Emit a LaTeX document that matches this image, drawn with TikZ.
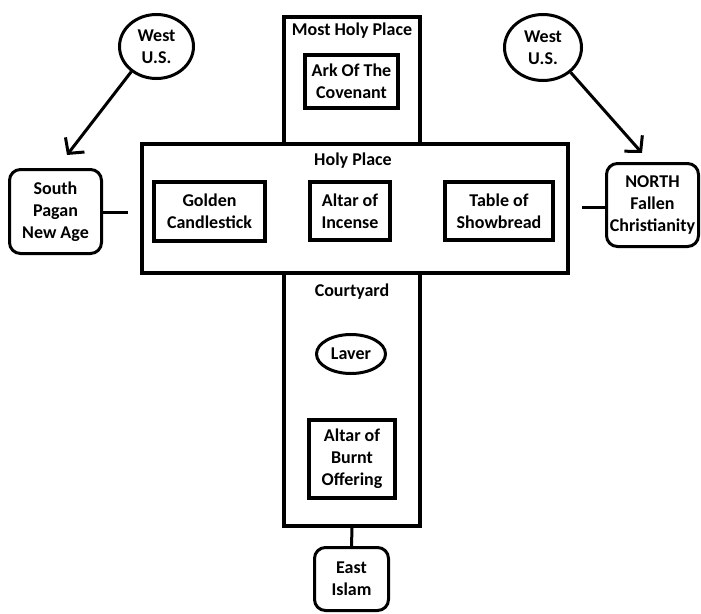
\documentclass[tikz,border=0pt]{standalone}
\usepackage{fontspec}
\setmainfont{Carlito}
\usetikzlibrary{arrows.meta,shapes.geometric,calc}
\begin{document}
\begin{tikzpicture}[x=1pt,y=-1pt,
  font=\bfseries\fontsize{18}{22}\selectfont,
  area/.style={draw, line width=4pt, rectangle, inner sep=0pt, fill=white},
  item/.style={draw, line width=4pt, rectangle, inner sep=0pt, align=center},
  place/.style={draw, line width=3pt, rectangle, rounded corners=11pt, inner sep=0pt, align=center},
  region/.style={draw, line width=3pt, ellipse, inner sep=0pt, align=center},
  lbl/.style={inner sep=0pt, align=center},
  link/.style={line width=3pt},
  arr/.style={line width=3pt, -{Straight Barb[length=11pt,width=24pt,line width=3pt]}}
]
\useasboundingbox (0,0) rectangle (701,613);
% cross
\node[area, minimum width=136pt, minimum height=127pt] (most) at (352,80) {};
\node[area, minimum width=136pt, minimum height=254pt] (court) at (352,399) {};
\node[area, minimum width=426pt, minimum height=129pt] (holy) at (355,208.5) {};
% labels
\node[lbl] (mostl) at (352,31) {Most Holy Place};
\node[lbl] (holyl) at (353,161) {Holy Place};
\node[lbl] (courtl) at (352,292) {Courtyard};
% items
\node[item, minimum width=93pt, minimum height=53pt] (ark) at (351.5,81.5) {Ark Of The\\Covenant};
\node[item, minimum width=111pt, minimum height=59pt] (gold) at (209.5,211.5) {Golden\\Candlestick};
\node[item, minimum width=80pt, minimum height=58pt] (incense) at (350,211) {Altar of\\Incense};
\node[item, minimum width=108pt, minimum height=58pt] (bread) at (499,211) {Table of\\Showbread};
\node[region, minimum width=69pt, minimum height=39pt] (laver) at (351,354) {Laver};
\node[item, minimum width=86pt, minimum height=78pt] (burnt) at (352,459) {Altar of\\Burnt\\Offering};
% directions
\node[region, minimum width=74pt, minimum height=64pt] (westl) at (156.5,46.5) {West\\U.S.};
\node[region, minimum width=77pt, minimum height=66pt] (westr) at (543,47.5) {West\\U.S.};
\node[place, minimum width=92pt, minimum height=84pt] (south) at (55.5,211.5) {South\\Pagan\\New Age};
\node[place, minimum width=92pt, minimum height=83pt] (north) at (652.5,205) {NORTH\\Fallen\\Christianity};
\node[place, minimum width=74pt, minimum height=63pt] (east) at (351.5,579) {East\\Islam};
% connectors
\coordinate (tipl) at (67,155);
\coordinate (tipr) at (642,153);
\coordinate (sgap) at (128,212);
\coordinate (ngap) at (582,207);
\draw[arr] (westl.225) -- (tipl);
\draw[arr] (westr.318) -- (tipr);
\draw[link] (south.east |- sgap) -- (sgap);
\draw[link] (ngap) -- (north.west |- ngap);
\draw[link] (court.south) -- (east.north);
\end{tikzpicture}
\end{document}
